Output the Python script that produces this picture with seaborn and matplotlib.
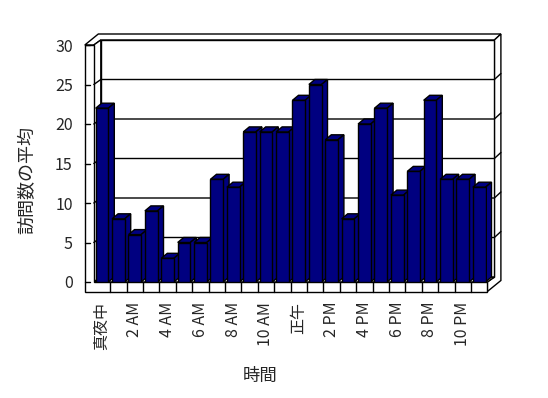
import matplotlib
matplotlib.use("Agg")
import matplotlib.pyplot as plt
from matplotlib.patches import Polygon
import seaborn as sns
import pandas as pd

sns.set_style("white")
plt.rcParams['font.family'] = ['Noto Sans CJK JP', 'DejaVu Sans']

# ---- data ----
hours = ["真夜中", "1 AM", "2 AM", "3 AM", "4 AM", "5 AM", "6 AM", "7 AM", "8 AM",
         "9 AM", "10 AM", "11 AM", "正午", "1 PM", "2 PM", "3 PM", "4 PM", "5 PM",
         "6 PM", "7 PM", "8 PM", "9 PM", "10 PM", "11 PM"]
visits = [22, 8, 6, 9, 3, 5, 5, 13, 12, 19, 19, 19,
          23, 25, 18, 8, 20, 22, 11, 14, 23, 13, 13, 12]
y_ticks = [0, 5, 10, 15, 20, 25, 30]
x_title = "時間"
y_title = "訪問数の平均"

df = pd.DataFrame({"hour": hours, "visits": visits})

W, H = 548, 398
fig = plt.figure(figsize=(W / 100, H / 100), dpi=100)
ax_l, ax_b, ax_w, ax_h = 93.8 / W, (H - 282) / H, 393.6 / W, 237 / H
ax = fig.add_axes([ax_l, ax_b, ax_w, ax_h])

NAVY = "#000080"
sns.barplot(data=df, x="hour", y="visits", order=hours, color=NAVY, saturation=1,
            width=0.77, edgecolor="black", linewidth=1, ax=ax)

n = len(hours)
x0, x1 = -0.5, n - 0.5
ax.set_xlim(x0, x1)
ax.set_ylim(0, 30)
for s in ax.spines.values():
    s.set_visible(False)
ax.set_facecolor("none")
ax.set_xlabel("")
ax.set_ylabel("")

# pixel -> data units
ux = (x1 - x0) / (ax_w * W)
uy = 30 / (ax_h * H)


def P(x, y, px=0.0, py=0.0):
    return (x + px * ux, y + py * uy)


D1 = (7, 5)      # inner back plane offset (px right, px up)
D2 = (13.5, 11)  # outer back plane offset
WALL = 9         # left wall thickness px
FLOOR = 9.5      # floor thickness px
DB = (6, 5)      # bar depth

lw = 1.0


def poly(pts, z, fc="white"):
    ax.add_patch(Polygon(pts, closed=True, facecolor=fc, edgecolor="black",
                         linewidth=lw, zorder=z, clip_on=False, joinstyle="miter"))


ymax = 30
# top surfaces (left wall + back wall)
poly([P(x0, ymax, -WALL, 0), P(x0, ymax), P(x0, ymax, *D1), P(x1, ymax, *D1),
      P(x1, ymax, *D2), P(x0, ymax, -WALL + D2[0], D2[1])], 0.1)
# right faces (back wall edge + floor side)
poly([P(x1, 0), P(x1, 0, 0, -FLOOR), P(x1, 0, D2[0], -FLOOR + D2[1]),
      P(x1, ymax, *D2), P(x1, ymax, *D1), P(x1, 0, *D1)], 0.1)
# back wall inner face
poly([P(x0, 0, *D1), P(x1, 0, *D1), P(x1, ymax, *D1), P(x0, ymax, *D1)], 0.2)
# left wall inner face
poly([P(x0, 0), P(x0, ymax), P(x0, ymax, *D1), P(x0, 0, *D1)], 0.2)
# floor top
poly([P(x0, 0), P(x1, 0), P(x1, 0, *D1), P(x0, 0, *D1)], 0.2)
# front L face (left wall front + floor front)
poly([P(x0, ymax, -WALL, 0), P(x0, ymax), P(x0, 0), P(x1, 0),
      P(x1, 0, 0, -FLOOR), P(x0, 0, -WALL, -FLOOR)], 0.3)

# gridlines on walls
for v in y_ticks[1:-1]:
    xs, ys = zip(P(x0, v), P(x0, v, *D1), P(x1, v, *D1), P(x1, v, *D2))
    ax.plot(xs, ys, color="black", lw=lw, zorder=0.5, clip_on=False)
# tick marks on front-left edge
for v in y_ticks:
    xs, ys = zip(P(x0, v, -WALL, 0), P(x0, v, -WALL + 5, 0))
    ax.plot(xs, ys, color="black", lw=lw, zorder=0.5, clip_on=False)
# floor front dividers
for k in range(n - 1):
    xs, ys = zip(P(k + 0.5, 0), P(k + 0.5, 0, 0, -FLOOR))
    ax.plot(xs, ys, color="black", lw=lw, zorder=0.5, clip_on=False)

# 3D bars: top and side faces derived from seaborn's bar patches
bars = list(ax.patches)[:n]
for i, b in enumerate(bars):
    bx0 = b.get_x()
    bx1 = bx0 + b.get_width()
    h = b.get_height()
    z = 2 + i * 0.01
    b.set_zorder(z + 0.005)
    poly([P(bx0, h), P(bx1, h), P(bx1, h, *DB), P(bx0, h, *DB)], z, NAVY)
    poly([P(bx1, 0), P(bx1, h), P(bx1, h, *DB), P(bx1, 0, *DB)], z, NAVY)

# ticks / labels
ax.set_xticks(range(0, n, 2))
ax.set_xticklabels(hours[::2], rotation=90, fontsize=11.5)
ax.set_yticks(y_ticks)
ax.set_yticklabels([str(v) for v in y_ticks], fontsize=11.5)
ax.tick_params(axis="x", length=0, pad=14.2)
ax.tick_params(axis="y", length=0, pad=15.2)

fig.text(27.5 / W, 1 - 179.5 / H, y_title, rotation=90, ha="center", va="center", fontsize=13)
fig.text(260 / W, 1 - 376 / H, x_title, ha="center", va="center", fontsize=12.5)

fig.savefig("out.png", dpi=100, facecolor="white")
